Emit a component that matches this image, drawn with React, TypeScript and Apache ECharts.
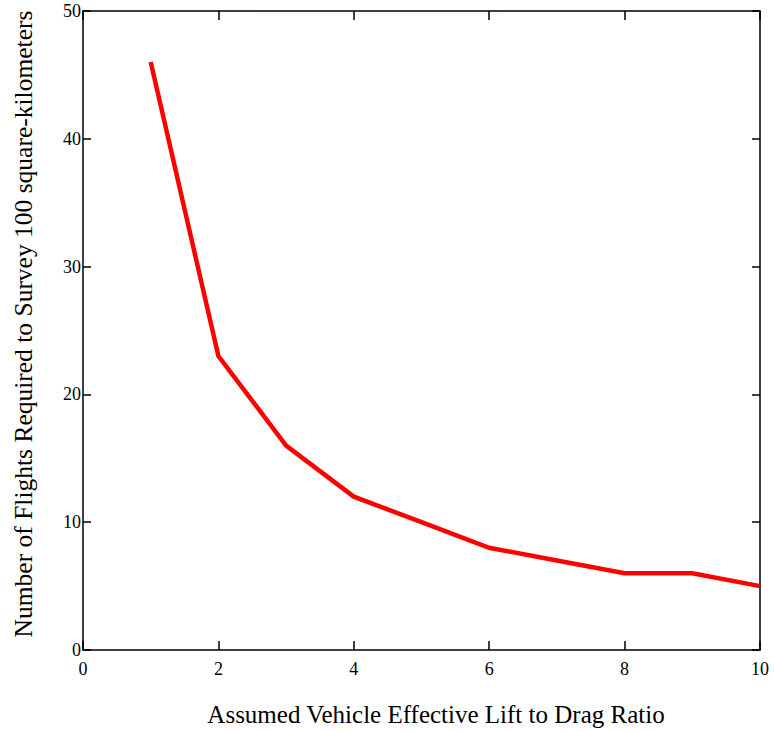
import React, { useEffect, useRef } from "react";
import * as echarts from "echarts";

// Lift-to-drag ratio (x) and flights needed (y)
const liftToDrag = [1, 2, 3, 4, 5, 6, 7, 8, 9, 10];
const flightsRequired = [46, 23, 16, 12, 10, 8, 7, 6, 6, 5];

const xTicks = [0, 2, 4, 6, 8, 10];
const yTicks = [0, 10, 20, 30, 40, 50];

const xTitle = "Assumed Vehicle Effective Lift to Drag Ratio";
const yTitle = "Number of Flights Required to Survey 100 square-kilometers";

const FONT = "'Liberation Serif', 'Times New Roman', serif";

export default function App() {
  const ref = useRef<HTMLDivElement>(null);

  useEffect(() => {
    if (!ref.current) return;
    const chart = echarts.init(ref.current, undefined, { renderer: "svg" });

    const axisLine = { show: true, onZero: false, lineStyle: { color: "#000", width: 1.5 } };
    const tickStyle = { lineStyle: { color: "#000", width: 1.5 } };

    chart.setOption({
      animation: false,
      backgroundColor: "#fff",
      grid: { left: 83, top: 11, right: 15, bottom: 82, containLabel: false },
      xAxis: [
        {
          type: "value",
          position: "bottom",
          min: xTicks[0],
          max: xTicks[xTicks.length - 1],
          interval: 2,
          axisLine,
          axisTick: { show: true, inside: true, length: 9, ...tickStyle },
          splitLine: { show: false },
          axisLabel: {
            color: "#000",
            fontFamily: FONT,
            fontSize: 18,
            margin: 10,
          },
        },
        {
          type: "value",
          position: "top",
          min: xTicks[0],
          max: xTicks[xTicks.length - 1],
          interval: 2,
          axisLine,
          axisTick: { show: true, inside: true, length: 9, ...tickStyle },
          splitLine: { show: false },
          axisLabel: { show: false },
        },
      ],
      yAxis: [
        {
          type: "value",
          position: "left",
          min: yTicks[0],
          max: yTicks[yTicks.length - 1],
          interval: 10,
          axisLine,
          axisTick: { show: true, inside: true, length: 8, ...tickStyle },
          splitLine: { show: false },
          axisLabel: {
            color: "#000",
            fontFamily: FONT,
            fontSize: 18,
            margin: 2,
          },
        },
        {
          type: "value",
          position: "right",
          min: yTicks[0],
          max: yTicks[yTicks.length - 1],
          interval: 10,
          axisLine,
          axisTick: { show: true, inside: true, length: 8, ...tickStyle },
          splitLine: { show: false },
          axisLabel: { show: false },
        },
      ],
      series: [
        {
          type: "line",
          xAxisIndex: 0,
          yAxisIndex: 0,
          data: liftToDrag.map((x, i) => [x, flightsRequired[i]]),
          showSymbol: false,
          symbol: "none",
          lineStyle: { color: "#ff0000", width: 4.5, cap: "butt", join: "miter" },
        },
      ],
      graphic: [
        {
          type: "text",
          x: 436,
          y: 714,
          style: {
            text: xTitle,
            fill: "#000",
            font: `25px ${FONT}`,
            align: "center",
            verticalAlign: "middle",
          },
        },
        {
          type: "text",
          x: 23,
          y: 324,
          rotation: Math.PI / 2,
          style: {
            text: yTitle,
            fill: "#000",
            font: `25.5px ${FONT}`,
            align: "center",
            verticalAlign: "middle",
          },
        },
      ],
    });

    return () => chart.dispose();
  }, []);

  return (
    <div
      ref={ref}
      style={{ position: "fixed", left: 0, top: 0, width: 775, height: 732, background: "#fff" }}
    />
  );
}
